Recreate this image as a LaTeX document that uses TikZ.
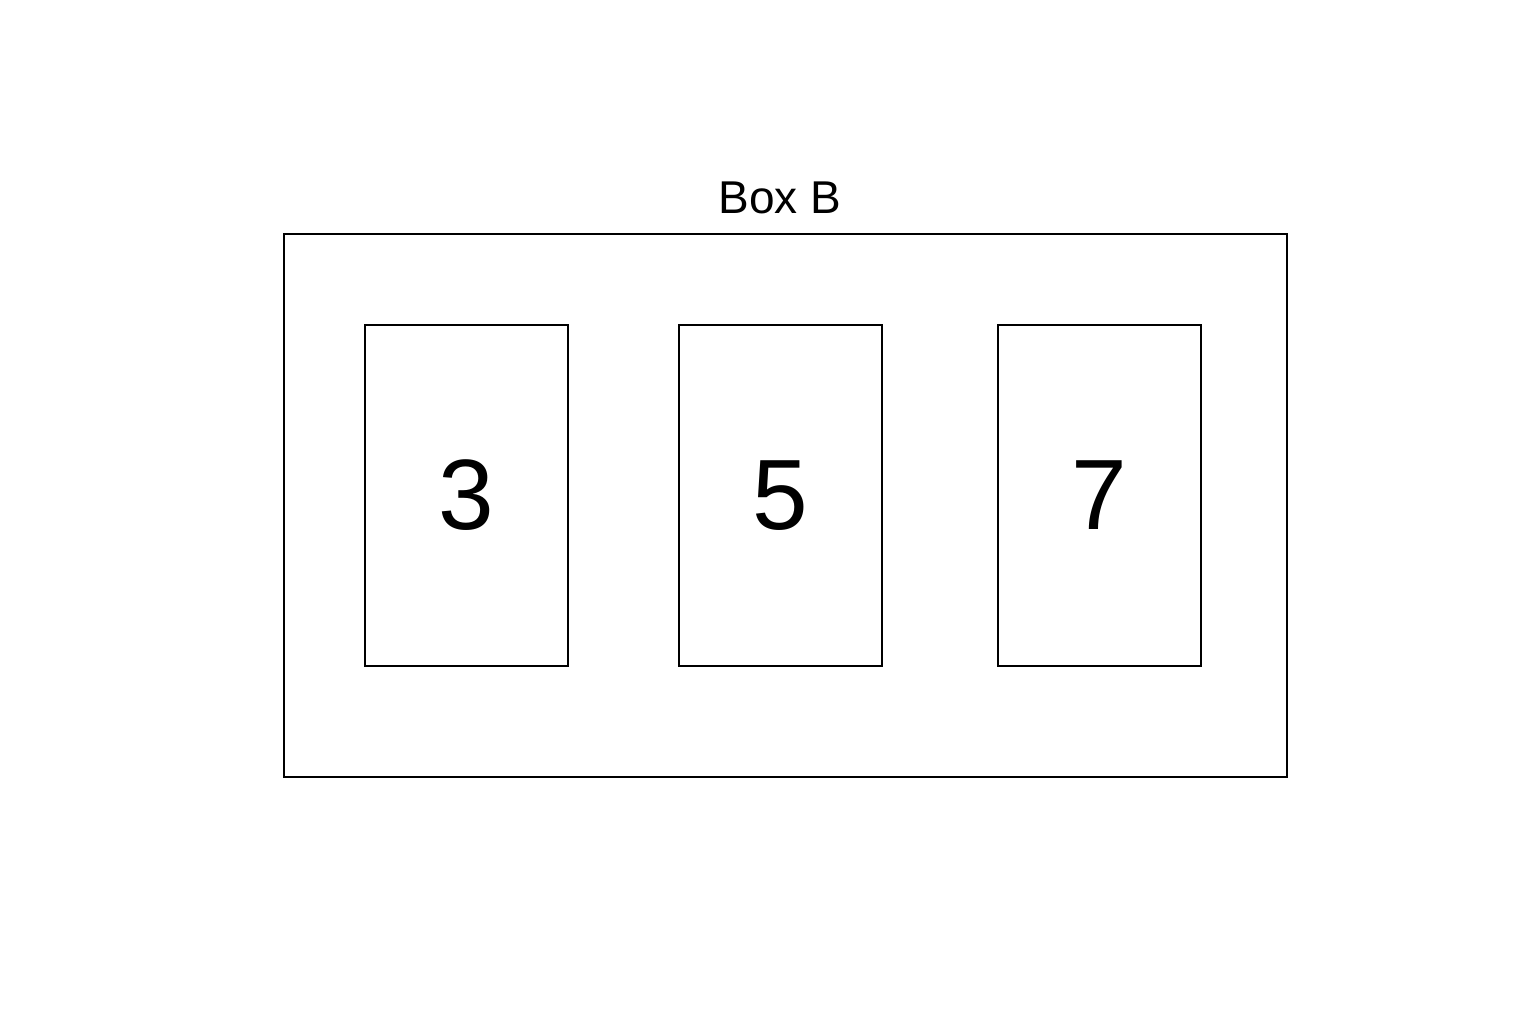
\documentclass[tikz,border=0pt]{standalone}
\usepackage{fontspec}
\setmainfont{Liberation Sans}
\begin{document}
\begin{tikzpicture}[x=1pt,y=-1pt,
  boxline/.style={draw=black,line width=2pt},
  card/.style={boxline,minimum width=203pt,minimum height=341pt,inner sep=0pt,font=\fontsize{100}{104}\selectfont}]
\useasboundingbox[fill=white] (0,0) rectangle (1536,1024);
\node[boxline,minimum width=1003pt,minimum height=543pt,inner sep=0pt] (outer) at (785.5,505.5) {};
\node[font=\fontsize{46}{50}\selectfont] (title) at (780,198) {Box B};
\node[card] (c3) at (466.5,495.5) {3};
\node[card] (c5) at (780.5,495.5) {5};
\node[card] (c7) at (1099,495.5) {7};
\end{tikzpicture}
\end{document}
